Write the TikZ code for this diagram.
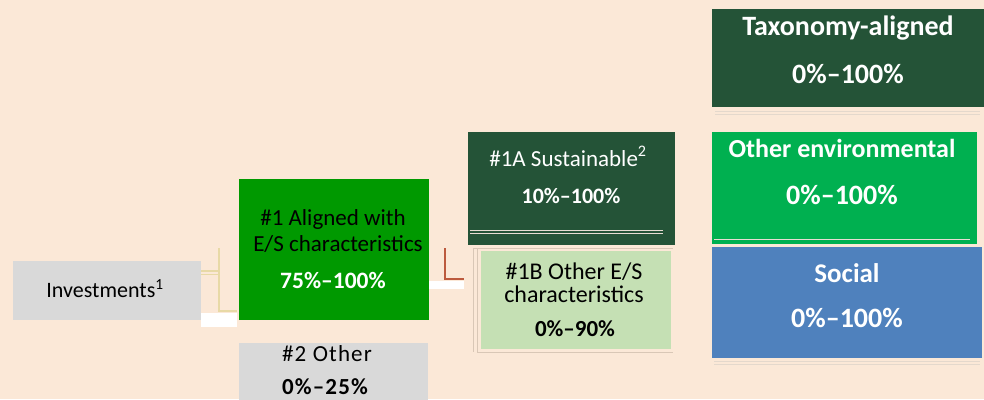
\documentclass[tikz,border=0pt]{standalone}
\usepackage{fontspec}
\setmainfont{Carlito}
\definecolor{bg}{HTML}{FBE8D7}
\definecolor{greybox}{HTML}{D9D9D9}
\definecolor{aligngreen}{HTML}{009900}
\definecolor{darkgreen}{HTML}{245337}
\definecolor{lightgreen}{HTML}{C5E0B4}
\definecolor{envgreen}{HTML}{00B050}
\definecolor{socialblue}{HTML}{4F81BD}
\definecolor{tanline}{HTML}{E8D9A6}
\definecolor{greyline}{HTML}{D9C7B6}
\definecolor{redline}{HTML}{BC5A3E}
\begin{document}
\begin{tikzpicture}[x=1pt,y=-1pt,
  box/.style={draw=none,inner sep=0pt,outer sep=0pt,anchor=north west},
  txt/.style={inner sep=0pt,anchor=base},
  conn/.style={line width=1.2pt},
  faint/.style={draw=greyline,line width=0.8pt}]
\useasboundingbox (0,0) rectangle (984,399);
\fill[bg] (0,0) rectangle (984,399);

% boxes
\node[box,fill=greybox,minimum width=188pt,minimum height=59pt] (inv) at (13,261) {};
\node[box,fill=aligngreen,minimum width=190pt,minimum height=141pt] (al) at (239,179) {};
\node[box,fill=darkgreen,minimum width=207pt,minimum height=113pt] (sus) at (468,132) {};
\node[box,fill=lightgreen,minimum width=190pt,minimum height=98pt] (oes) at (481,251) {};
\node[box,fill=greybox,minimum width=189pt,minimum height=60pt] (oth) at (239,343) {};
\node[box,fill=darkgreen,minimum width=272pt,minimum height=98pt] (tax) at (712,9) {};
\node[box,fill=envgreen,minimum width=265pt,minimum height=112pt] (env) at (712,132) {};
\node[box,fill=socialblue,minimum width=270pt,minimum height=111pt] (soc) at (712,247) {};

% connector fragments
\coordinate (c1) at (201,313);
\coordinate (c2) at (429,281);
\fill[white] (c1) rectangle ++(36,14);
\fill[white] (c2) rectangle ++(35,8);
\draw[tanline,conn] (219,248) -- (219,312);
\draw[tanline,conn] (201,271) -- (219,271);
\draw[tanline,line width=0.6pt] (201,274.5) -- (219,274.5);
\draw[tanline,conn] (219,311) -- (237,311);
\draw[redline,line width=1.6pt] (445,248) -- (445,279) -- (464,279);
\draw[faint] (473,248) -- (473,352);
\draw[faint] (477,248) -- (477,352);
\draw[faint] (473,248.5) -- (673,248.5);
\draw[faint] (477,352) -- (673,352);
\draw[greyline!60,line width=0.7pt] (470,230.5) -- (663,230.5);
\draw[greyline!60,line width=0.7pt] (470,233.5) -- (663,233.5);
\draw[greyline!70,line width=0.7pt] (715,111.5) -- (980,111.5);
\draw[greyline!70,line width=0.7pt] (715,114.5) -- (980,114.5);
\draw[greyline!60,line width=0.7pt] (714,239.5) -- (970,239.5);
\draw[greyline!70,line width=0.7pt] (714,361) -- (980,361);
\draw[greyline!70,line width=0.7pt] (714,364) -- (980,364);

% texts
\node[txt,font=\fontsize{22}{26}\selectfont] (tinv) at (105,297) {Investments\textsuperscript{1}};
\node[txt,font=\fontsize{23}{27}\selectfont] (tal1) at (333,225) {\#1 Aligned with};
\node[txt,font=\fontsize{23}{27}\selectfont] (tal2) at (338,251) {E/S characteristics};
\node[txt,font=\fontsize{23.5}{27}\selectfont\bfseries,text=white] (tal3) at (333,288) {75\%–100\%};
\node[txt,font=\fontsize{23}{27}\selectfont,text=white] (tsus1) at (568,166) {\#1A Sustainable\textsuperscript{2}};
\node[txt,font=\fontsize{22}{26}\selectfont\bfseries,text=white] (tsus2) at (571,203) {10\%–100\%};
\node[txt,font=\fontsize{24}{28}\selectfont] (toes1) at (574,279) {\#1B Other E/S};
\node[txt,font=\fontsize{24}{28}\selectfont] (toes2) at (574,302) {characteristics};
\node[txt,font=\fontsize{23}{27}\selectfont\bfseries] (toes3) at (575,336) {0\%–90\%};
\node[txt,font=\fontsize{23}{27}\selectfont\addfontfeature{LetterSpace=5}] (toth1) at (327,361) {\#2 Other};
\node[txt,font=\fontsize{23}{27}\selectfont\bfseries\addfontfeature{LetterSpace=5}] (toth2) at (325,394) {0\%–25\%};
\node[txt,font=\fontsize{28}{32}\selectfont\bfseries,text=white] (ttax1) at (848,35) {Taxonomy-aligned};
\node[txt,font=\fontsize{28}{32}\selectfont\bfseries,text=white] (ttax2) at (848,83) {0\%–100\%};
\node[txt,font=\fontsize{26}{30}\selectfont\bfseries,text=white] (tenv1) at (842,157) {Other environmental};
\node[txt,font=\fontsize{28}{32}\selectfont\bfseries,text=white] (tenv2) at (842,204) {0\%–100\%};
\node[txt,font=\fontsize{27}{31}\selectfont\bfseries,text=white] (tsoc1) at (847,282) {Social};
\node[txt,font=\fontsize{28}{32}\selectfont\bfseries,text=white] (tsoc2) at (847,327) {0\%–100\%};
\end{tikzpicture}
\end{document}
